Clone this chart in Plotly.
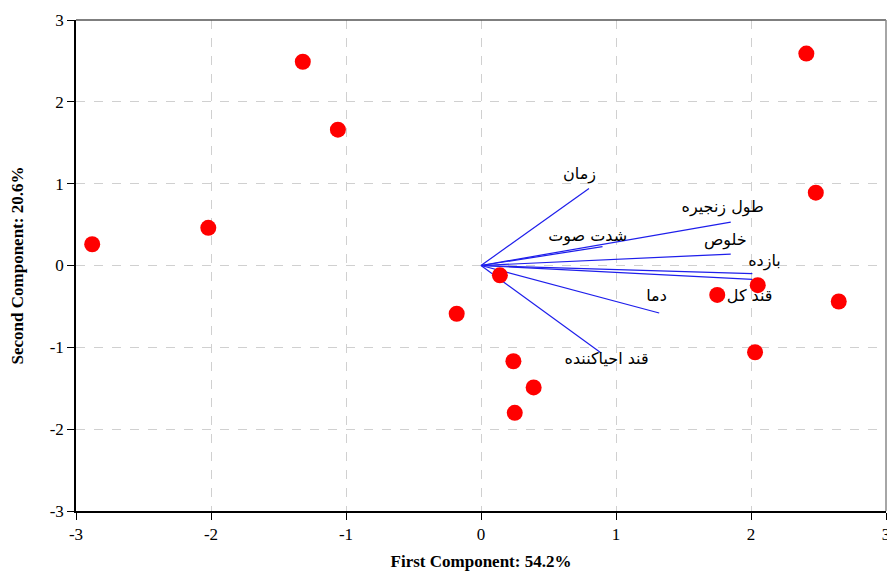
import plotly.graph_objects as go

# Scores
score_x = [-2.88, -2.02, -1.32, -1.06, -0.18, 0.14, 0.24, 0.39, 0.25, 1.75, 2.05, 2.03, 2.41, 2.48, 2.65]
score_y = [0.26, 0.46, 2.49, 1.66, -0.59, -0.12, -1.17, -1.49, -1.80, -0.36, -0.24, -1.06, 2.59, 0.89, -0.44]

# Loadings (vectors)
var_names = ["زمان", "طول زنجیره", "شدت صوت", "خلوص", "بازده", "قند کل", "دما", "قند احیاکننده"]
load_x = [0.80, 1.85, 0.90, 1.85, 2.01, 2.01, 1.32, 0.89]
load_y = [0.94, 0.53, 0.23, 0.14, -0.10, -0.17, -0.58, -1.07]
label_x = [0.73, 1.79, 0.79, 1.81, 2.10, 1.99, 1.30, 0.93]
label_y = [1.11, 0.70, 0.35, 0.30, 0.04, -0.38, -0.38, -1.15]

tick_vals = [-3, -2, -1, 0, 1, 2, 3]
tick_text = ["-3", "-2", "-1", "0", "1", "2", "3"]

fig = go.Figure()

for lx, ly in zip(load_x, load_y):
    fig.add_trace(go.Scatter(x=[0, lx], y=[0, ly], mode="lines",
                             line=dict(color="rgb(30,30,235)", width=1.2),
                             hoverinfo="skip", showlegend=False))

fig.add_trace(go.Scatter(x=score_x, y=score_y, mode="markers",
                         marker=dict(color="#ff0000", size=16, line=dict(width=0)),
                         showlegend=False))

fig.add_trace(go.Scatter(x=label_x, y=label_y, mode="text", text=var_names,
                         textfont=dict(family="DejaVu Serif, DejaVu Sans", size=16, color="black"),
                         textposition="middle center", showlegend=False, hoverinfo="skip"))

axis_common = dict(
    showgrid=True, gridcolor="#d0d0d0", griddash="dash", gridwidth=1,
    zeroline=False, showline=True, linecolor="black", linewidth=1.5,
    ticks="outside", ticklen=7, tickcolor="black", automargin=False,
    tickvals=tick_vals, ticktext=tick_text, ticklabeloverflow="allow",
    tickfont=dict(family="Liberation Serif, Times New Roman", size=17, color="black"),
)

fig.update_layout(
    width=887, height=574,
    margin=dict(l=76, r=1, t=20, b=63),
    plot_bgcolor="white", paper_bgcolor="white",
    xaxis=dict(range=[-3, 3], **axis_common,
               title=dict(text="<b>First Component: 54.2%</b>",
                          font=dict(family="Liberation Serif, Times New Roman", size=17, color="black"),
                          standoff=12)),
    yaxis=dict(range=[-3, 3], **axis_common,
               title=dict(text="<b>Second Component: 20.6%</b>",
                          font=dict(family="Liberation Serif, Times New Roman", size=17, color="black"),
                          standoff=22)),
    shapes=[
        dict(type="line", xref="paper", yref="paper", x0=0, x1=1, y0=1, y1=1,
             line=dict(color="#555555", width=1.5)),
        dict(type="line", xref="paper", yref="paper", x0=1, x1=1, y0=0, y1=1,
             line=dict(color="#888888", width=1.5)),
    ],
)

fig.write_html("out.html", config={"displayModeBar": False},
               post_script="document.body.style.margin='0';document.body.style.overflow='hidden';")
